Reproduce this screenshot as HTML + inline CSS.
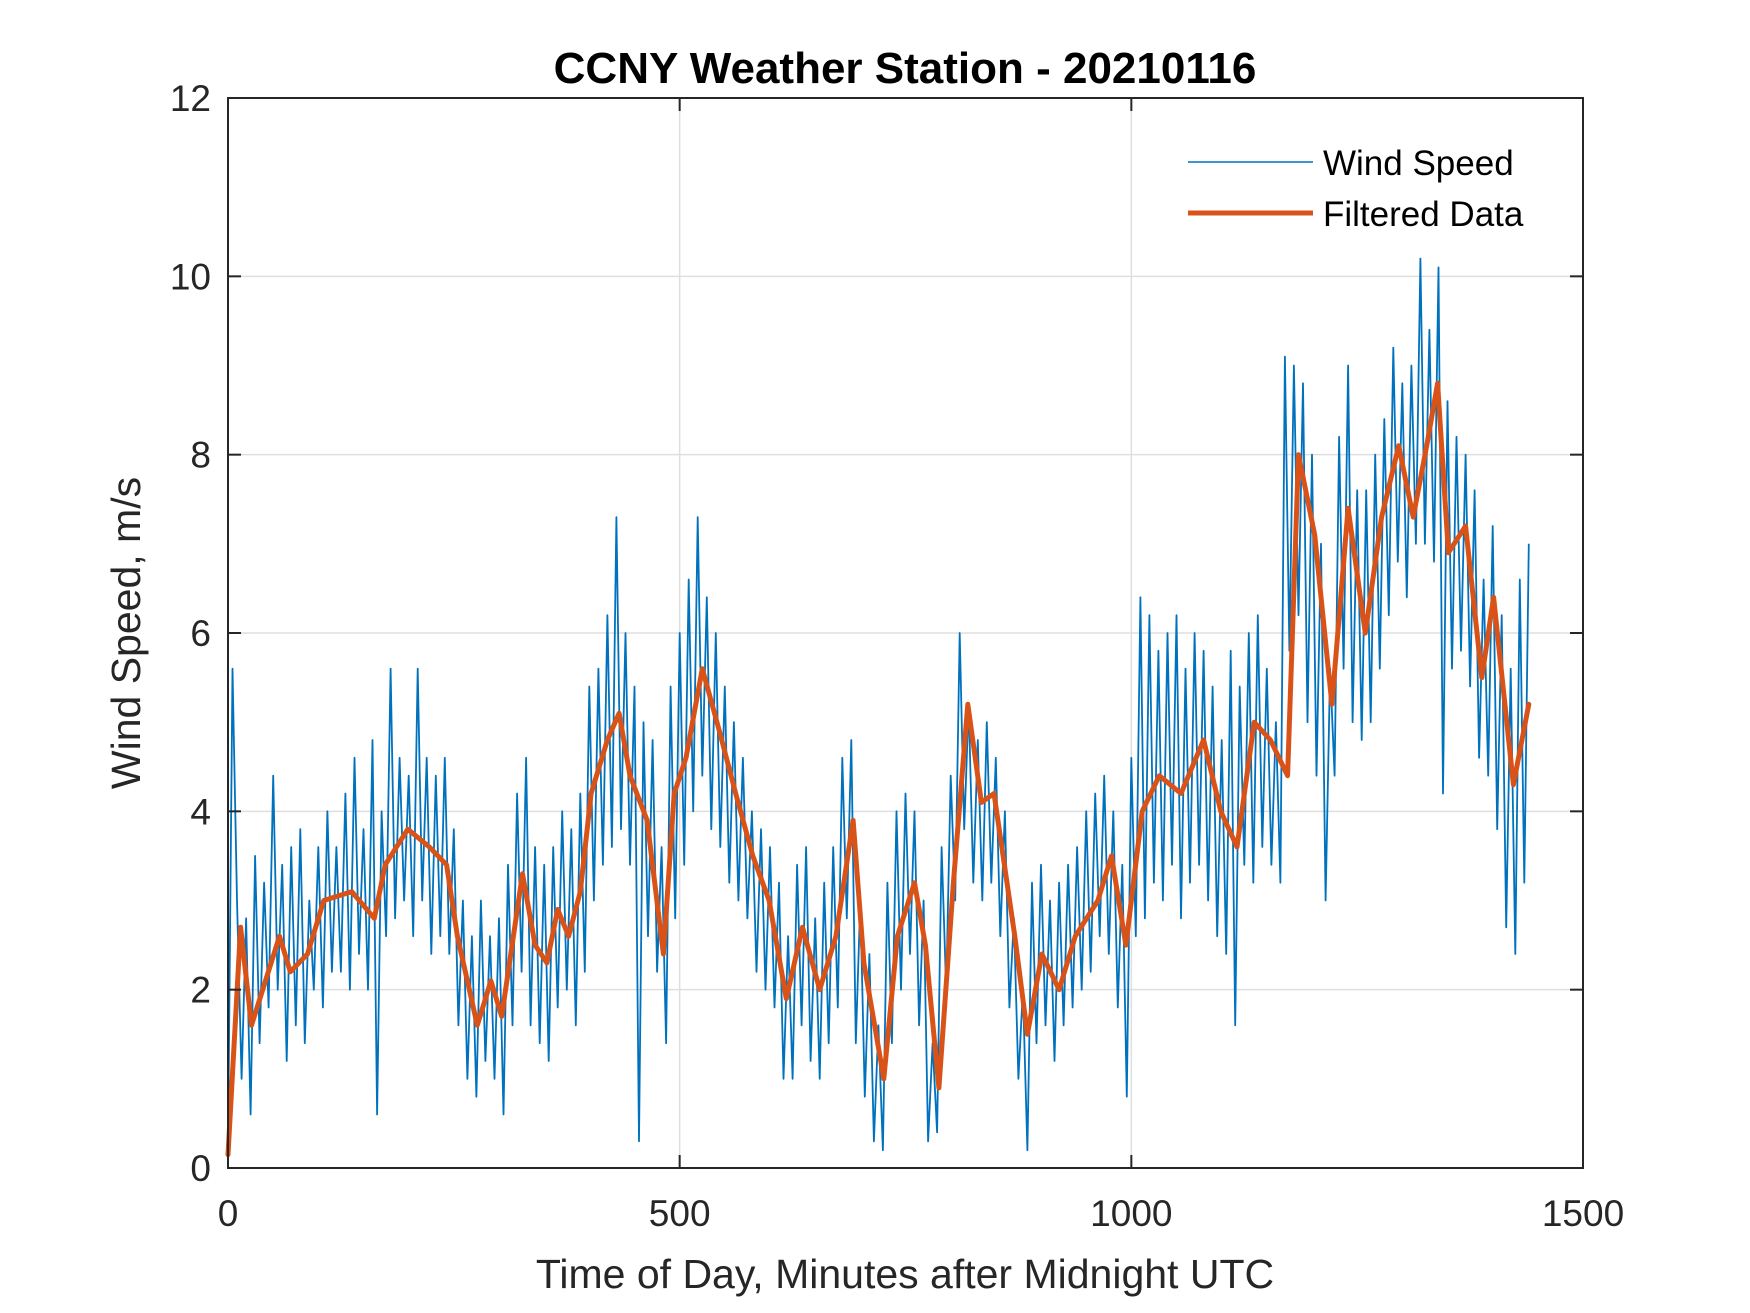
<!DOCTYPE html>
<html><head><meta charset="utf-8"><style>
html,body{margin:0;padding:0;background:#fff}
svg{display:block}
text{font-family:"Liberation Sans",Arial,sans-serif}
</style></head><body>
<svg id="chart" width="1750" height="1313" viewBox="0 0 1750 1313" xmlns="http://www.w3.org/2000/svg">
<rect width="1750" height="1313" fill="#fff"/>
<g id="grid"></g>
<g id="series"></g>
<rect x="228" y="98" width="1355" height="1070" fill="none" stroke="#262626" stroke-width="2"/>
<g id="ticks"></g>
<text x="905" y="83" text-anchor="middle" font-size="44" font-weight="bold" fill="#000">CCNY Weather Station - 20210116</text>
<text x="905" y="1288" text-anchor="middle" font-size="41" fill="#262626">Time of Day, Minutes after Midnight UTC</text>
<text transform="translate(140,633) rotate(-90)" text-anchor="middle" font-size="41" fill="#262626">Wind Speed, m/s</text>
<g>
<line x1="1188" y1="162" x2="1313" y2="162" stroke="#0072BD" stroke-width="1.5"/>
<text x="1323" y="175" font-size="35" fill="#000">Wind Speed</text>
<line x1="1188" y1="213" x2="1313" y2="213" stroke="#D95319" stroke-width="5"/>
<text x="1323" y="226" font-size="35" fill="#000">Filtered Data</text>
</g>
</svg>
<script>
const xTicks = [0, 500, 1000, 1500];
const yTicks = [0, 2, 4, 6, 8, 10, 12];
const rawStep = 5;
const rawValues = [
0.2,5.6,3.0,1.0,2.8,0.6,3.5,1.4,3.2,1.8,4.4,2.0,
3.4,1.2,3.6,1.6,3.8,1.4,3.0,2.0,3.6,1.8,4.0,2.2,
3.6,2.2,4.2,2.0,4.6,2.4,3.8,2.0,4.8,0.6,4.0,2.6,
5.6,2.8,4.6,3.0,4.4,2.6,5.6,3.0,4.6,2.4,4.4,2.6,
4.6,2.4,3.8,1.6,3.0,1.0,2.6,0.8,3.0,1.2,2.6,1.0,
2.8,0.6,3.4,1.6,4.2,2.2,4.6,1.6,3.6,1.4,3.4,1.2,
3.6,1.8,4.0,2.0,3.8,1.6,4.2,2.2,5.4,3.0,5.6,3.4,
6.2,3.6,7.3,3.8,6.0,3.4,5.4,0.3,5.0,2.6,4.8,2.2,
3.6,1.4,5.4,2.8,6.0,3.4,6.6,4.0,7.3,4.4,6.4,3.8,
6.0,3.6,5.4,3.2,5.0,3.0,4.6,2.8,4.0,2.2,3.8,2.0,
3.6,1.8,3.2,1.0,2.6,1.0,3.4,1.6,3.6,1.2,2.8,1.0,
3.2,1.4,3.6,1.8,4.6,2.8,4.8,1.4,3.0,0.8,2.4,0.3,
1.6,0.2,3.2,1.4,4.0,2.0,4.2,2.4,4.0,1.6,3.0,0.3,
1.4,0.4,3.6,2.0,4.4,3.0,6.0,3.8,5.2,3.2,4.8,3.0,
5.0,3.2,4.6,2.6,4.0,1.8,2.8,1.0,2.0,0.2,3.2,1.4,
3.4,1.6,3.0,1.2,3.2,1.6,3.4,1.8,3.6,2.0,4.0,2.2,
4.2,2.6,4.4,2.4,4.0,1.8,3.4,0.8,4.6,2.6,6.4,2.8,
6.2,3.2,5.8,3.0,6.0,3.4,6.2,2.8,5.6,3.2,6.0,3.4,
5.8,3.0,5.4,2.6,4.8,2.4,5.8,1.6,5.4,3.4,6.0,3.2,
6.2,3.6,5.6,3.4,5.0,3.2,9.1,5.8,9.0,6.2,8.8,5.0,
8.0,4.4,7.0,3.0,5.6,4.4,8.2,5.6,9.0,5.0,7.6,4.8,
7.6,5.0,8.0,5.6,8.4,6.2,9.2,6.8,8.8,6.4,9.0,7.0,
10.2,7.0,9.4,6.8,10.1,4.2,8.6,5.6,8.2,5.8,8.0,5.4,
7.6,4.6,6.6,4.4,7.2,3.8,6.2,2.7,5.6,2.4,6.6,3.2,
7.0];
const filteredTimes = [0,14,26,57,69,88,106,137,162,174,199,223,242,254,276,291,303,326,340,353,365,377,390,402,420,433,445,464,482,494,507,525,544,562,581,599,618,636,655,673,692,704,726,741,760,772,787,803,819,834,848,871,885,901,920,938,963,978,994,1012,1031,1055,1080,1099,1117,1136,1154,1173,1185,1203,1222,1240,1259,1277,1296,1312,1327,1339,1351,1370,1388,1401,1423,1440];
const filteredValues = [0.15,2.7,1.6,2.6,2.2,2.4,3.0,3.1,2.8,3.4,3.8,3.6,3.4,2.6,1.6,2.1,1.7,3.3,2.5,2.3,2.9,2.6,3.1,4.2,4.8,5.1,4.4,3.9,2.4,4.2,4.6,5.6,4.9,4.2,3.5,3.0,1.9,2.7,2.0,2.6,3.9,2.3,1.0,2.6,3.2,2.5,0.9,3.2,5.2,4.1,4.2,2.6,1.5,2.4,2.0,2.6,3.0,3.5,2.5,4.0,4.4,4.2,4.8,4.0,3.6,5.0,4.8,4.4,8.0,7.1,5.2,7.4,6.0,7.3,8.1,7.3,8.1,8.8,6.9,7.2,5.5,6.4,4.3,5.2];

const NS = 'http://www.w3.org/2000/svg';
const X0 = 228, X1 = 1583, Y0 = 1168, Y1 = 98;
function xScale(t){ return X0 + (t - 0) / 1500 * (X1 - X0); }
function yScale(v){ return Y0 - v / 12 * (Y0 - Y1); }

const grid = document.getElementById('grid');
const ticks = document.getElementById('ticks');
xTicks.forEach(t => {
  const x = xScale(t);
  if (t > 0 && t < 1500) {
    const g = document.createElementNS(NS, 'line');
    
    
    g.setAttribute('x1', x); g.setAttribute('x2', x); g.setAttribute('y1', Y1); g.setAttribute('y2', Y0);
    g.setAttribute('stroke', '#dfdfdf'); g.setAttribute('stroke-width', '1.5');
    grid.appendChild(g);
  }
  [[Y0, Y0 - 13], [Y1, Y1 + 13]].forEach(p => {
    const tk = document.createElementNS(NS, 'line');
    
    
    tk.setAttribute('x1', x); tk.setAttribute('x2', x); tk.setAttribute('y1', p[0]); tk.setAttribute('y2', p[1]);
    tk.setAttribute('stroke', '#262626'); tk.setAttribute('stroke-width', '2');
    ticks.appendChild(tk);
  });
  const lb = document.createElementNS(NS, 'text');
  
  
  lb.setAttribute('x', x); lb.setAttribute('y', 1226);
  lb.setAttribute('text-anchor', 'middle'); lb.setAttribute('font-size', '37'); lb.setAttribute('fill', '#262626');
  lb.textContent = t;
  ticks.appendChild(lb);
});
yTicks.forEach(v => {
  const y = yScale(v);
  if (v > 0 && v < 12) {
    const g = document.createElementNS(NS, 'line');
    
    
    g.setAttribute('x1', X0); g.setAttribute('x2', X1); g.setAttribute('y1', y); g.setAttribute('y2', y);
    g.setAttribute('stroke', '#dfdfdf'); g.setAttribute('stroke-width', '1.5');
    grid.appendChild(g);
  }
  [[X0, X0 + 13], [X1, X1 - 13]].forEach(p => {
    const tk = document.createElementNS(NS, 'line');
    
    
    tk.setAttribute('x1', p[0]); tk.setAttribute('x2', p[1]); tk.setAttribute('y1', y); tk.setAttribute('y2', y);
    tk.setAttribute('stroke', '#262626'); tk.setAttribute('stroke-width', '2');
    ticks.appendChild(tk);
  });
  const lb = document.createElementNS(NS, 'text');
  
  
  lb.setAttribute('x', 211); lb.setAttribute('y', y + 13);
  lb.setAttribute('text-anchor', 'end'); lb.setAttribute('font-size', '37'); lb.setAttribute('fill', '#262626');
  lb.textContent = v;
  ticks.appendChild(lb);
});

const series = document.getElementById('series');
const rawPts = rawValues.map((v, i) => xScale(i * rawStep).toFixed(1) + ',' + yScale(v).toFixed(1)).join(' ');
const raw = document.createElementNS(NS, 'polyline');


raw.setAttribute('points', rawPts);
raw.setAttribute('fill', 'none'); raw.setAttribute('stroke', '#0072BD'); raw.setAttribute('stroke-width', '1.8');
raw.setAttribute('stroke-linejoin', 'round');
series.appendChild(raw);

const filPts = filteredValues.map((v, i) => xScale(filteredTimes[i]).toFixed(1) + ',' + yScale(v).toFixed(1)).join(' ');
const fil = document.createElementNS(NS, 'polyline');


fil.setAttribute('points', filPts);
fil.setAttribute('fill', 'none'); fil.setAttribute('stroke', '#D95319'); fil.setAttribute('stroke-width', '5');
fil.setAttribute('stroke-linejoin', 'round'); fil.setAttribute('stroke-linecap', 'round');
series.appendChild(fil);
</script>
</body></html>
